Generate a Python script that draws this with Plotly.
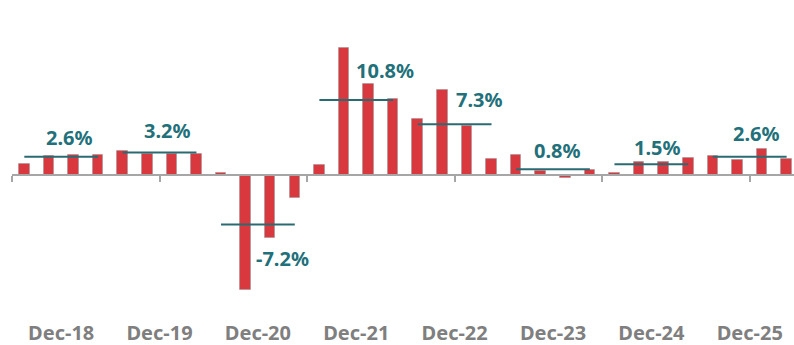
import plotly.graph_objects as go

# Quarterly growth, % (four quarters per year)
quarterly_growth = [
    1.6, 2.7, 2.85, 2.85,      # 2018
    3.4, 2.95, 2.95, 3.05,     # 2019
    0.3, -16.7, -9.1, -3.4,    # 2020
    1.45, 18.3, 13.2, 11.0,    # 2021
    8.0, 12.2, 7.1, 2.3,       # 2022
    2.8, 0.5, -0.5, 0.7,       # 2023
    0.3, 1.8, 1.8, 2.4,        # 2024
    2.65, 2.2, 3.7, 2.3,       # 2025
]
# Annual average growth, %
annual_avg = [2.6, 3.2, -7.2, 10.8, 7.3, 0.8, 1.5, 2.6]
year_labels = ["Dec-18", "Dec-19", "Dec-20", "Dec-21", "Dec-22", "Dec-23", "Dec-24", "Dec-25"]

# Label placement relative to each year's average line (x in bars, y in % points)
label_dx = [0.33, 0.33, 0.98, 1.18, 1.0, 0.2, 0.24, 0.28]
label_dy = [2.8, 3.2, -4.9, 4.3, 3.6, 2.75, 2.5, 3.4]

BAR_RED = "#d9383e"
TEAL = "#2a6b73"
LABEL_TEAL = "#22707a"
AXIS_GREY = "#a6a6a6"
TICK_GREY = "#7f7f7f"
FONT = "Noto Sans"

n = len(quarterly_growth)
per_year = 4
x_idx = list(range(n))
x_range = [-0.5, 31.3]
y_range = [-20.9, 25.3]

fig = go.Figure()

fig.add_trace(go.Bar(
    x=x_idx, y=quarterly_growth, width=0.43,
    marker=dict(color=BAR_RED, line=dict(color="rgba(150,150,150,0.55)", width=1)),
    hoverinfo="y", showlegend=False,
))

# Annual average lines spanning each year's bars
for k, avg in enumerate(annual_avg):
    x0 = k * per_year
    x1 = x0 + per_year - 1
    fig.add_trace(go.Scatter(
        x=[x0, x1], y=[avg, avg], mode="lines",
        line=dict(color=TEAL, width=2), hoverinfo="skip", showlegend=False,
    ))
    fig.add_annotation(
        x=(x0 + x1) / 2 + label_dx[k], y=avg + label_dy[k],
        text=f"{avg:.1f}%", showarrow=False,
        font=dict(family=FONT, size=20, color=LABEL_TEAL, weight="bold"),
        xanchor="center", yanchor="middle",
    )

group_centres = [k * per_year + (per_year - 1) / 2 for k in range(len(year_labels))]
boundary_ticks = [-0.5 + 6 * k for k in range(6)]
zero_pos = (0 - y_range[0]) / (y_range[1] - y_range[0])

fig.update_layout(
    width=794, height=345,
    margin=dict(l=12, r=0, t=0, b=26),
    paper_bgcolor="white", plot_bgcolor="white",
    bargap=0,
    xaxis=dict(
        range=x_range, tickmode="array", tickvals=group_centres, ticktext=year_labels,
        showgrid=False, zeroline=False, showline=False, ticks="", automargin=False,
        tickfont=dict(family=FONT, size=20, color=TICK_GREY, weight="bold"),
    ),
    xaxis2=dict(
        range=x_range, overlaying="x", anchor="free", position=zero_pos, side="bottom",
        showline=True, linecolor=AXIS_GREY, linewidth=2, automargin=False,
        tickmode="array", tickvals=boundary_ticks, ticks="outside", ticklen=6,
        tickwidth=2, tickcolor=AXIS_GREY, showticklabels=False, showgrid=False,
        zeroline=False,
    ),
    yaxis=dict(range=y_range, visible=False, showgrid=False, zeroline=False),
)

# Invisible trace to activate the baseline axis
fig.add_trace(go.Scatter(x=[x_range[0]], y=[0], xaxis="x2", mode="markers",
                         marker=dict(opacity=0), hoverinfo="skip", showlegend=False))

fig.write_html("out.html")
